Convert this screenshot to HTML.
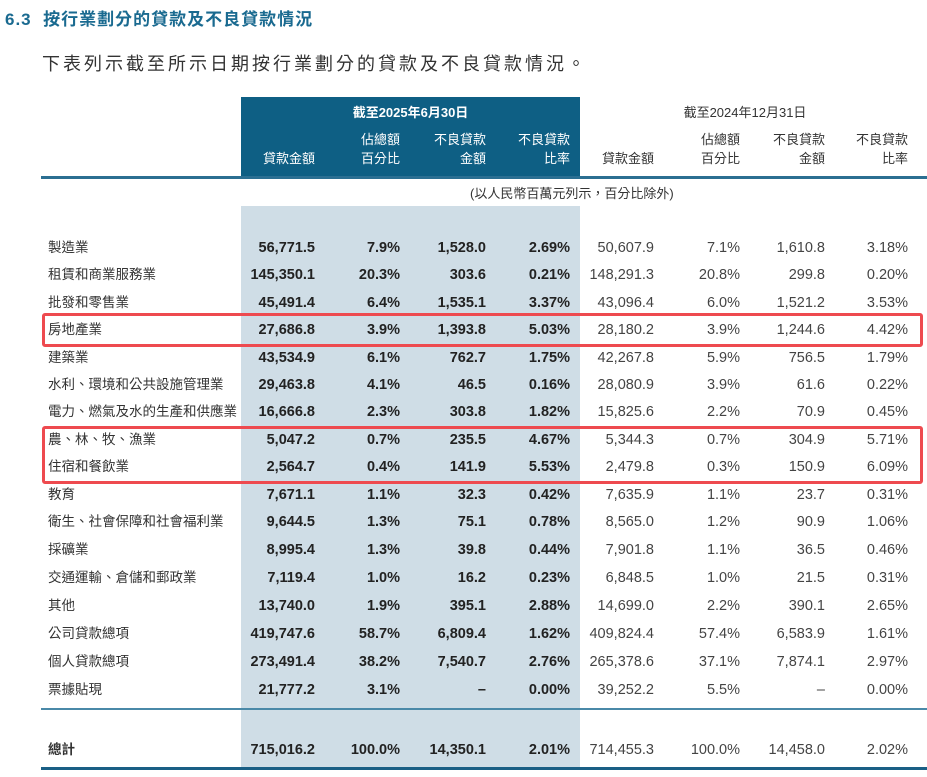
<!DOCTYPE html>
<html><head><meta charset="utf-8"><style>
body{margin:0;width:927px;height:777px;background:#fff;position:relative;overflow:hidden;font-family:"Liberation Sans","Noto Sans CJK TC",sans-serif;color:#222}
.a{position:absolute;white-space:nowrap}
.r{position:absolute;height:20px;line-height:20px;font-size:14px;width:927px;left:0}
.r span{position:absolute;text-align:right;width:100px;font-family:"Liberation Sans Narrow","Liberation Sans","Noto Sans CJK TC",sans-serif;font-size:14.5px}
.r .l{left:48px;text-align:left;width:200px;font-family:"Liberation Sans","Noto Sans CJK TC",sans-serif;font-size:13.5px;color:#333}
.r .c1,.r .c2,.r .c3,.r .c4{font-weight:bold;color:#222}
.c1{left:215px}.c2{left:300px}.c3{left:386px}.c4{left:470px}
.c5{left:554px;color:#444}.c6{left:640px;color:#444}.c7{left:725px;color:#444}.c8{left:808px;color:#444}
.h{position:absolute;font-size:13px;line-height:19px;text-align:right;width:100px;font-family:"Liberation Sans","Noto Sans CJK TC",sans-serif}
.hw{color:#fff}.hd{color:#333}
.box{position:absolute;border:3px solid #ee4a4f;border-radius:3px;left:42px;width:875px}
</style></head><body>
<div class="a" style="left:5px;top:5px;font-size:17px;font-weight:bold;color:#1a6a90;letter-spacing:1px">6.3&nbsp;&nbsp;按行業劃分的貸款及不良貸款情況</div>
<div class="a" style="left:42px;top:50px;font-size:18px;color:#333;letter-spacing:3px">下表列示截至所示日期按行業劃分的貸款及不良貸款情況。</div>
<div class="a" style="left:241px;top:97px;width:339px;height:80px;background:#0e5f84"></div>
<div class="a" style="left:241px;top:206px;width:339px;height:564px;background:#cfdde6"></div>
<div class="a" style="left:41px;top:176px;width:886px;height:3px;background:#2b6f92"></div>
<div class="a" style="left:41px;top:708px;width:886px;height:2px;background:#4a89a8"></div>
<div class="a" style="left:41px;top:767px;width:886px;height:3px;background:#1a5f85"></div>
<div class="a" style="left:241px;top:102px;width:339px;text-align:center;color:#fff;font-size:13px;font-weight:bold">截至2025年6月30日</div>
<div class="a" style="left:580px;top:102px;width:330px;text-align:center;color:#333;font-size:13px">截至2024年12月31日</div>
<div class="h hw" style="left:215px;top:149px">貸款金額</div>
<div class="h hw" style="left:300px;top:130px">佔總額<br>百分比</div>
<div class="h hw" style="left:386px;top:130px">不良貸款<br>金額</div>
<div class="h hw" style="left:470px;top:130px">不良貸款<br>比率</div>
<div class="h hd" style="left:554px;top:149px">貸款金額</div>
<div class="h hd" style="left:640px;top:130px">佔總額<br>百分比</div>
<div class="h hd" style="left:725px;top:130px">不良貸款<br>金額</div>
<div class="h hd" style="left:808px;top:130px">不良貸款<br>比率</div>
<div class="a" style="left:470px;top:183px;font-size:13px;color:#333">(以人民幣百萬元列示，百分比除外)</div>

<div class="r" style="top:238px"><span class="l">製造業</span><span class="c1">56,771.5</span><span class="c2">7.9%</span><span class="c3">1,528.0</span><span class="c4">2.69%</span><span class="c5">50,607.9</span><span class="c6">7.1%</span><span class="c7">1,610.8</span><span class="c8">3.18%</span></div>
<div class="r" style="top:265px"><span class="l">租賃和商業服務業</span><span class="c1">145,350.1</span><span class="c2">20.3%</span><span class="c3">303.6</span><span class="c4">0.21%</span><span class="c5">148,291.3</span><span class="c6">20.8%</span><span class="c7">299.8</span><span class="c8">0.20%</span></div>
<div class="r" style="top:293px"><span class="l">批發和零售業</span><span class="c1">45,491.4</span><span class="c2">6.4%</span><span class="c3">1,535.1</span><span class="c4">3.37%</span><span class="c5">43,096.4</span><span class="c6">6.0%</span><span class="c7">1,521.2</span><span class="c8">3.53%</span></div>
<div class="r" style="top:320px"><span class="l">房地產業</span><span class="c1">27,686.8</span><span class="c2">3.9%</span><span class="c3">1,393.8</span><span class="c4">5.03%</span><span class="c5">28,180.2</span><span class="c6">3.9%</span><span class="c7">1,244.6</span><span class="c8">4.42%</span></div>
<div class="r" style="top:348px"><span class="l">建築業</span><span class="c1">43,534.9</span><span class="c2">6.1%</span><span class="c3">762.7</span><span class="c4">1.75%</span><span class="c5">42,267.8</span><span class="c6">5.9%</span><span class="c7">756.5</span><span class="c8">1.79%</span></div>
<div class="r" style="top:375px"><span class="l">水利、環境和公共設施管理業</span><span class="c1">29,463.8</span><span class="c2">4.1%</span><span class="c3">46.5</span><span class="c4">0.16%</span><span class="c5">28,080.9</span><span class="c6">3.9%</span><span class="c7">61.6</span><span class="c8">0.22%</span></div>
<div class="r" style="top:402px"><span class="l">電力、燃氣及水的生產和供應業</span><span class="c1">16,666.8</span><span class="c2">2.3%</span><span class="c3">303.8</span><span class="c4">1.82%</span><span class="c5">15,825.6</span><span class="c6">2.2%</span><span class="c7">70.9</span><span class="c8">0.45%</span></div>
<div class="r" style="top:430px"><span class="l">農、林、牧、漁業</span><span class="c1">5,047.2</span><span class="c2">0.7%</span><span class="c3">235.5</span><span class="c4">4.67%</span><span class="c5">5,344.3</span><span class="c6">0.7%</span><span class="c7">304.9</span><span class="c8">5.71%</span></div>
<div class="r" style="top:457px"><span class="l">住宿和餐飲業</span><span class="c1">2,564.7</span><span class="c2">0.4%</span><span class="c3">141.9</span><span class="c4">5.53%</span><span class="c5">2,479.8</span><span class="c6">0.3%</span><span class="c7">150.9</span><span class="c8">6.09%</span></div>
<div class="r" style="top:485px"><span class="l">教育</span><span class="c1">7,671.1</span><span class="c2">1.1%</span><span class="c3">32.3</span><span class="c4">0.42%</span><span class="c5">7,635.9</span><span class="c6">1.1%</span><span class="c7">23.7</span><span class="c8">0.31%</span></div>
<div class="r" style="top:512px"><span class="l">衛生、社會保障和社會福利業</span><span class="c1">9,644.5</span><span class="c2">1.3%</span><span class="c3">75.1</span><span class="c4">0.78%</span><span class="c5">8,565.0</span><span class="c6">1.2%</span><span class="c7">90.9</span><span class="c8">1.06%</span></div>
<div class="r" style="top:540px"><span class="l">採礦業</span><span class="c1">8,995.4</span><span class="c2">1.3%</span><span class="c3">39.8</span><span class="c4">0.44%</span><span class="c5">7,901.8</span><span class="c6">1.1%</span><span class="c7">36.5</span><span class="c8">0.46%</span></div>
<div class="r" style="top:568px"><span class="l">交通運輸、倉儲和郵政業</span><span class="c1">7,119.4</span><span class="c2">1.0%</span><span class="c3">16.2</span><span class="c4">0.23%</span><span class="c5">6,848.5</span><span class="c6">1.0%</span><span class="c7">21.5</span><span class="c8">0.31%</span></div>
<div class="r" style="top:596px"><span class="l">其他</span><span class="c1">13,740.0</span><span class="c2">1.9%</span><span class="c3">395.1</span><span class="c4">2.88%</span><span class="c5">14,699.0</span><span class="c6">2.2%</span><span class="c7">390.1</span><span class="c8">2.65%</span></div>
<div class="r" style="top:624px"><span class="l">公司貸款總項</span><span class="c1">419,747.6</span><span class="c2">58.7%</span><span class="c3">6,809.4</span><span class="c4">1.62%</span><span class="c5">409,824.4</span><span class="c6">57.4%</span><span class="c7">6,583.9</span><span class="c8">1.61%</span></div>
<div class="r" style="top:652px"><span class="l">個人貸款總項</span><span class="c1">273,491.4</span><span class="c2">38.2%</span><span class="c3">7,540.7</span><span class="c4">2.76%</span><span class="c5">265,378.6</span><span class="c6">37.1%</span><span class="c7">7,874.1</span><span class="c8">2.97%</span></div>
<div class="r" style="top:680px"><span class="l">票據貼現</span><span class="c1">21,777.2</span><span class="c2">3.1%</span><span class="c3">–</span><span class="c4">0.00%</span><span class="c5">39,252.2</span><span class="c6">5.5%</span><span class="c7">–</span><span class="c8">0.00%</span></div>
<div class="r" style="top:740px"><span class="l" style="font-weight:bold">總計</span><span class="c1">715,016.2</span><span class="c2">100.0%</span><span class="c3">14,350.1</span><span class="c4">2.01%</span><span class="c5">714,455.3</span><span class="c6">100.0%</span><span class="c7">14,458.0</span><span class="c8">2.02%</span></div>

<div class="box" style="top:313px;height:28px"></div>
<div class="box" style="top:426px;height:52px"></div>
</body></html>
